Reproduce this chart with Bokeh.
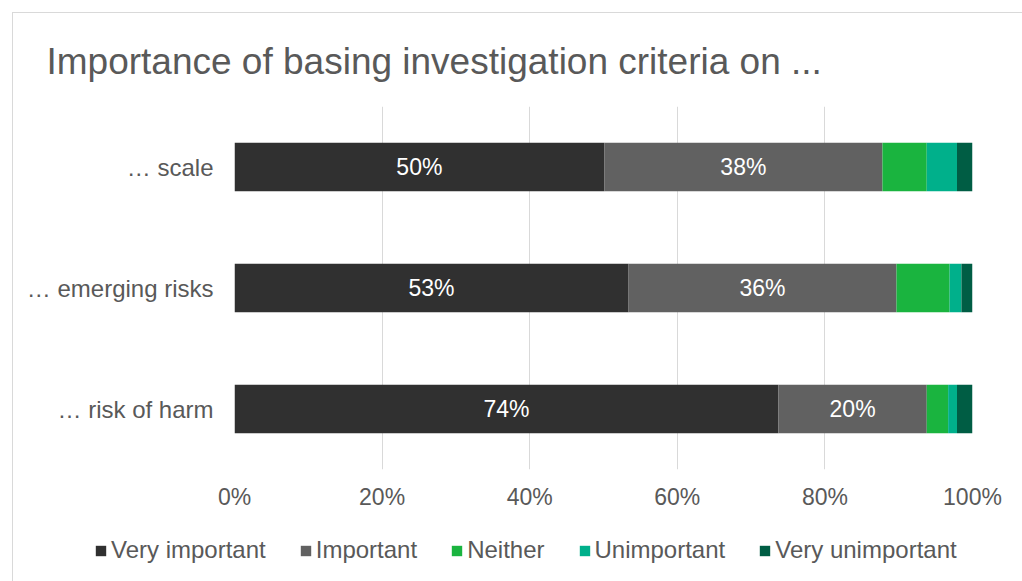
from bokeh.plotting import figure
from bokeh.layouts import column
from bokeh.models import FactorRange, Range1d, FixedTicker, CustomJSTickFormatter, Legend, LegendItem, ColumnDataSource, Title
from bokeh.embed import file_html
from bokeh.resources import INLINE

categories = ["… risk of harm", "… emerging risks", "… scale"]
series = ["Very important", "Important", "Neither", "Unimportant", "Very unimportant"]
very_important = [73.7, 53.4, 50.1]
important = [20.1, 36.3, 37.7]
neither = [2.9, 7.2, 6.0]
unimportant = [1.2, 1.6, 4.1]
very_unimportant = [2.1, 1.5, 2.1]
tick_values = [0, 20, 40, 60, 80, 100]
colors = ["#303030", "#616161", "#1AB43F", "#00B08B", "#005D44"]

FONT = "Liberation Sans"
TXT = "#595959"

data = {"cat": categories}
for name, vals in zip(series, [very_important, important, neither, unimportant, very_unimportant]):
    data[name] = vals
src = ColumnDataSource(data)

# main chart
p = figure(width=1010, height=515, y_range=FactorRange(*categories, range_padding=0),
           x_range=Range1d(0, 100), output_backend="svg", toolbar_location=None,
           min_border_left=221, min_border_right=51, min_border_top=93, min_border_bottom=59)
p.outline_line_color = None
p.frame_align = False

p.hbar_stack(series, y="cat", height=0.4, color=colors, source=src, line_color=None)

lab_x1 = [v / 2 for v in very_important]
lab_x2 = [a + b / 2 for a, b in zip(very_important, important)]
lab_src = ColumnDataSource(dict(
    x=lab_x1 + lab_x2,
    y=categories + categories,
    t=[f"{round(v)}%" for v in very_important] + [f"{round(v)}%" for v in important],
))
p.text(x="x", y="y", text="t", source=lab_src, text_color="white", text_align="center",
       text_baseline="middle", text_font_size="23px", text_font={"value": FONT})

p.xaxis.ticker = FixedTicker(ticks=tick_values)
p.xaxis.formatter = CustomJSTickFormatter(code="return tick + '%';")
for ax in [p.xaxis[0], p.yaxis[0]]:
    ax.axis_line_color = None
    ax.major_tick_line_color = None
    ax.minor_tick_line_color = None
    ax.major_label_text_font = FONT
    ax.major_label_text_color = TXT
p.xaxis.major_label_text_font_size = "23px"
p.yaxis.major_label_text_font_size = "24px"
p.xaxis.major_label_standoff = 8
p.yaxis.major_label_standoff = 15
p.ygrid.grid_line_color = None
p.xgrid.grid_line_color = "#d9d9d9"
p.xgrid.grid_line_width = 1

p.title = Title(text="Importance of basing investigation criteria on ...", text_font=FONT,
                text_font_size="37px", text_font_style="normal", text_color=TXT,
                align="left", offset=-188, standoff=50)

# legend strip
p2 = figure(width=1010, height=54, x_range=Range1d(-10, -5), y_range=FactorRange(*categories),
            output_backend="svg", toolbar_location=None, x_axis_location=None, y_axis_location=None,
            min_border_left=0, min_border_right=0, min_border_top=0, min_border_bottom=0)
p2.outline_line_color = None
p2.frame_align = False
p2.grid.grid_line_color = None
leg_renderers = p2.hbar_stack(series, y="cat", height=0.4, color=colors, source=src, line_color=None)
legend = Legend(items=[LegendItem(label=s, renderers=[r]) for s, r in zip(series, leg_renderers)],
                orientation="horizontal", location=(81, 18), border_line_color=None,
                background_fill_alpha=0,
                label_text_font=FONT, label_text_font_size="24px", label_text_color=TXT,
                glyph_width=13, glyph_height=13, label_standoff=4, spacing=33,
                padding=0, margin=0)
p2.add_layout(legend, "center")

layout = column(p, p2, spacing=0, margin=(12, 0, 0, 12),
                styles={"border-left": "1px solid #d9d9d9", "border-top": "1px solid #d9d9d9"})

open("out.html", "w").write(file_html(layout, INLINE))
